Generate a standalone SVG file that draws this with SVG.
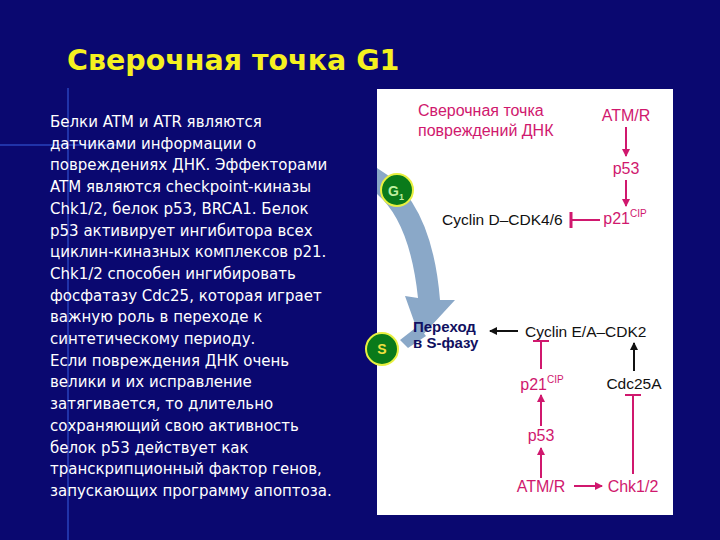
<svg xmlns="http://www.w3.org/2000/svg" width="720" height="540" viewBox="0 0 720 540">
<defs>
<style>
.t{font-family:"DejaVu Sans",Verdana,sans-serif;font-size:15px;fill:#fff}
.m{font-family:"Liberation Sans",Arial,sans-serif;font-size:16px;fill:#d0186e}
.k{font-family:"Liberation Sans",Arial,sans-serif;font-size:15.5px;fill:#111}
.pl{stroke:#d0186e;stroke-width:2;fill:none}
.bl{stroke:#111;stroke-width:2;fill:none}
</style>
<marker id="ap" markerWidth="8" markerHeight="8" refX="7" refY="4" orient="auto" markerUnits="userSpaceOnUse"><path d="M0,0 L8,4 L0,8 z" fill="#d0186e"/></marker>
<marker id="ak" markerWidth="8" markerHeight="8" refX="7" refY="4" orient="auto" markerUnits="userSpaceOnUse"><path d="M0,0 L8,4 L0,8 z" fill="#111"/></marker>
</defs>
<rect width="720" height="540" fill="#0a0870"/>
<line x1="68" y1="88" x2="68" y2="540" stroke="#3050d0" stroke-width="2" opacity="0.6"/>
<line x1="0" y1="145" x2="120" y2="145" stroke="#3050d0" stroke-width="2" opacity="0.6"/>
<text x="67" y="70" font-family="DejaVu Sans,Verdana,sans-serif" font-size="28.5" font-weight="bold" fill="#f5f020">Сверочная точка G1</text>
<text class="t" y="0">
<tspan x="50" y="127">Белки ATM и ATR являются</tspan>
<tspan x="50" y="148.7">датчиками информации о</tspan>
<tspan x="50" y="170.4">повреждениях ДНК. Эффекторами</tspan>
<tspan x="50" y="192.1">ATM являются checkpoint-киназы</tspan>
<tspan x="50" y="213.8">Chk1/2, белок p53, BRCA1. Белок</tspan>
<tspan x="50" y="235.5">p53 активирует ингибитора всех</tspan>
<tspan x="50" y="257.2">циклин-киназных комплексов p21.</tspan>
<tspan x="50" y="278.9">Chk1/2 способен ингибировать</tspan>
<tspan x="50" y="300.6">фосфатазу Cdc25, которая играет</tspan>
<tspan x="50" y="322.3">важную роль в переходе к</tspan>
<tspan x="50" y="344">синтетическому периоду.</tspan>
<tspan x="50" y="365.7">Если повреждения ДНК очень</tspan>
<tspan x="50" y="387.4">велики и их исправление</tspan>
<tspan x="50" y="409.1">затягивается, то длительно</tspan>
<tspan x="50" y="430.8">сохраняющий свою активность</tspan>
<tspan x="50" y="452.5">белок p53 действует как</tspan>
<tspan x="50" y="474.2">транскрипционный фактор генов,</tspan>
<tspan x="50" y="495.9">запускающих программу апоптоза.</tspan>
</text>
<rect x="377" y="89" width="296" height="426" fill="#fff"/>
<g id="cycle">
<path d="M377,168 Q432,200 440,300 L455,300 L420,338 L405,296 L418,298 Q410,222 377,194 z" fill="#8aa8c8"/>
<path d="M400,340 L418,326 L426,336 L408,348 z" fill="#8aa8c8"/>
</g>
<g id="g1"><circle cx="397" cy="190" r="16" fill="#0a7a1a" stroke="#e8f040" stroke-width="2"/><text x="396" y="196" text-anchor="middle" font-family="Liberation Sans,Arial,sans-serif" font-size="14" font-weight="bold" fill="#c0f0a0">G<tspan font-size="9" dy="4">1</tspan></text></g>
<g id="s"><circle cx="382" cy="349" r="16" fill="#0a7a1a" stroke="#e8f040" stroke-width="2"/><text x="382" y="354" text-anchor="middle" font-family="Liberation Sans,Arial,sans-serif" font-size="14" font-weight="bold" fill="#f0e040">S</text></g>
<g id="title2"><text class="m" font-size="16.5"><tspan x="418" y="116">Сверочная точка</tspan><tspan x="418" y="136">повреждений ДНК</tspan></text></g>
<g id="atmr1"><text class="m" x="626" y="121" text-anchor="middle">ATM/R</text></g>
<g id="p53a"><text class="m" x="626" y="174" text-anchor="middle">p53</text></g>
<g id="p21a"><text class="m" x="625" y="224" text-anchor="middle">p21<tspan font-size="10" dy="-7">CIP</tspan></text></g>
<g id="cyclinD"><text class="k" x="442" y="225">Cyclin D–CDK4/6</text></g>
<g id="perehod"><text font-family="Liberation Sans,Arial,sans-serif" font-size="15" font-weight="bold" fill="#101060"><tspan x="413" y="332">Переход</tspan><tspan x="413" y="348">в S-фазу</tspan></text></g>
<g id="cyclinE"><text class="k" x="525" y="337">Cyclin E/A–CDK2</text></g>
<g id="p21b"><text class="m" x="542" y="390" text-anchor="middle">p21<tspan font-size="10" dy="-7">CIP</tspan></text></g>
<g id="cdc25"><text class="k" x="634" y="389" text-anchor="middle">Cdc25A</text></g>
<g id="p53b"><text class="m" x="541" y="441" text-anchor="middle">p53</text></g>
<g id="atmr2"><text class="m" x="541" y="492" text-anchor="middle">ATM/R</text></g>
<g id="chk"><text class="m" x="633" y="492" text-anchor="middle">Chk1/2</text></g>
<g id="connectors">
<line class="pl" x1="600" y1="220" x2="572" y2="220"/>
<line class="pl" x1="626" y1="127" x2="626" y2="156" marker-end="url(#ap)"/>
<line class="pl" x1="626" y1="180" x2="626" y2="206" marker-end="url(#ap)"/>
<line x1="571" y1="212" x2="571" y2="228" stroke="#d0186e" stroke-width="3"/>
<line class="bl" x1="518" y1="331" x2="490" y2="331" marker-end="url(#ak)"/>
<line class="pl" x1="541" y1="369" x2="541" y2="341"/>
<line class="pl" x1="533" y1="341" x2="549" y2="341"/>
<line class="pl" x1="541" y1="426" x2="541" y2="395" marker-end="url(#ap)"/>
<line class="pl" x1="541" y1="478" x2="541" y2="448" marker-end="url(#ap)"/>
<line class="pl" x1="574" y1="486" x2="602" y2="486" marker-end="url(#ap)"/>
<line class="pl" x1="633" y1="474" x2="633" y2="395"/>
<line class="pl" x1="625" y1="395" x2="641" y2="395"/>
<line class="bl" x1="634" y1="371" x2="634" y2="343" marker-end="url(#ak)"/>
</g>
</svg>
